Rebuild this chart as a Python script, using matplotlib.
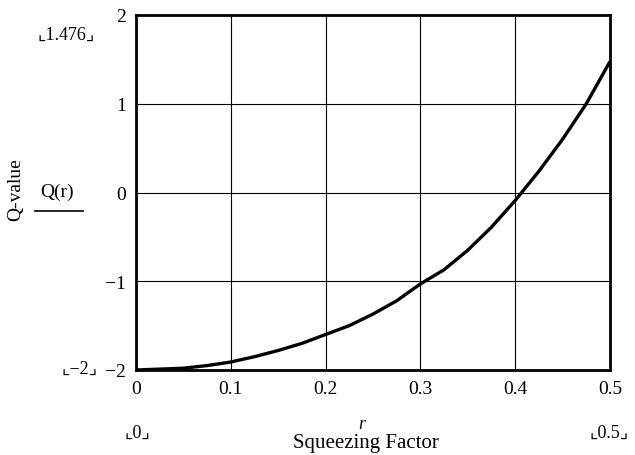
import numpy as np
import matplotlib
matplotlib.use('Agg')
import matplotlib.pyplot as plt

# values
r = [0, 0.025, 0.05, 0.075, 0.1, 0.125, 0.15, 0.175, 0.2, 0.225, 0.25,
     0.275, 0.3, 0.325, 0.35, 0.375, 0.4, 0.425, 0.45, 0.475, 0.5]
q = [-2.0, -1.99, -1.98, -1.95, -1.91, -1.85, -1.78, -1.70, -1.60, -1.50, -1.37,
     -1.22, -1.03, -0.87, -0.65, -0.39, -0.09, 0.24, 0.60, 1.0, 1.476]
xticks = [0, 0.1, 0.2, 0.3, 0.4, 0.5]
xtick_labels = ['0', '0.1', '0.2', '0.3', '0.4', '0.5']
yticks = [-2, -1, 0, 1, 2]
ytick_labels = ['\u22122', '\u22121', '0', '1', '2']

plt.rcParams['font.family'] = ['Liberation Serif', 'DejaVu Sans']

fig = plt.figure(figsize=(6.35, 4.56), dpi=100)
ax = fig.add_axes([136/635, 1 - 371/456, (610-136)/635, (371-16)/456])

ax.plot(r, q, color='black', lw=2.4, solid_capstyle='butt')
ax.set_xlim(0, 0.5)
ax.set_ylim(-2, 2)
ax.set_xticks(xticks)
ax.set_xticklabels(xtick_labels)
ax.set_yticks(yticks)
ax.set_yticklabels(ytick_labels)
ax.grid(True, color='black', lw=0.8)
ax.tick_params(length=0, labelsize=14, pad=7)
for s in ax.spines.values():
    s.set_linewidth(2)

def ftext(x, y, s, **kw):
    fig.text(x/635, 1 - y/456, s, ha='center', va='center', **kw)

# Mathcad-style axis limit labels
ftext(66, 35, '\u231e1.476\u231f', fontsize=13)
ftext(80, 369, '\u231e\u22122\u231f', fontsize=13)
ftext(137, 433, '\u231e0\u231f', fontsize=13)
ftext(609, 433, '\u231e0.5\u231f', fontsize=13)

ftext(362, 425, 'r', fontsize=13, style='italic')
ftext(366, 444, 'Squeezing Factor', fontsize=15)

ftext(16, 190, 'Q-value', fontsize=14, rotation=90)
ftext(57, 192, 'Q(r)', fontsize=14)
fig.add_artist(plt.Line2D([35/635, 83/635], [1 - 212/456, 1 - 212/456], color='black', lw=1.2))

fig.savefig('out.png', dpi=100)
